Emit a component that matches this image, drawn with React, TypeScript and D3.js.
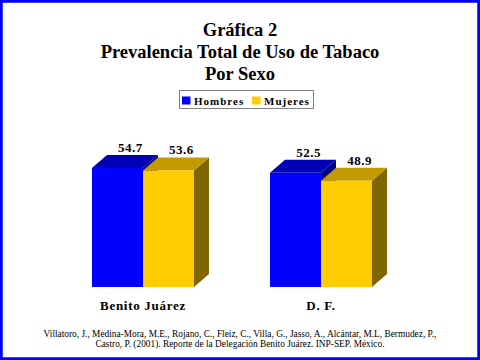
import React from "react";
import * as d3 from "d3";

const categories = ["Benito Juárez", "D. F."];
const seriesNames = ["Hombres", "Mujeres"];
const hombres = [54.7, 52.5];
const mujeres = [53.6, 48.9];
const titleLines = ["Gráfica 2", "Prevalencia Total de Uso de Tabaco", "Por Sexo"];
const footLines = [
  "Villatoro, J., Medina-Mora, M.E., Rojano, C., Fleiz, C., Villa, G., Jasso, A., Alcántar, M.L, Bermudez, P.,",
  "Castro, P. (2001). Reporte de la Delegación Benito Juárez. INP-SEP. México.",
];

const W = 480;
const H = 360;
const colors = [
  { front: "#0000FF", top: "#0000B4", side: "#000080" },
  { front: "#FFCC00", top: "#C39A00", side: "#806600" },
];
const DX = 15;
const DY = 13;
const SERIF = "'Liberation Serif', 'Times New Roman', serif";

export default function App() {
  const x0 = d3.scaleBand<string>().domain(categories).range([92, 372]).paddingInner(0.427).paddingOuter(0);
  const x1 = d3.scaleBand<string>().domain(seriesNames).range([0, x0.bandwidth()]).padding(0);
  const y = d3.scaleLinear().domain([0, 60]).range([287, 156.5]);
  const data = [hombres, mujeres];

  return (
    <svg width={W} height={H} style={{ display: "block", position: "absolute", left: 0, top: 0 }}>
      <rect x={0} y={0} width={W} height={H} fill="#fff" />
      <rect x={1.25} y={1.25} width={W - 2.5} height={H - 2.5} fill="none" stroke="#0000FF" strokeWidth={3} />
      {titleLines.map((t, i) => (
        <text key={i} x={240} y={36 + i * 22} textAnchor="middle" fontFamily={SERIF} fontWeight="bold" fontSize={18.5} fill="#000">
          {t}
        </text>
      ))}
      {/* legend */}
      <rect x={179.5} y={90.5} width={134} height={18} fill="#fff" stroke="#808080" strokeWidth={1} />
      {seriesNames.map((s, i) => {
        const lx = i === 0 ? 182 : 252;
        return (
          <g key={s}>
            <rect x={lx} y={96.5} width={8.5} height={8} fill={colors[i].front} />
            <text x={lx + 12} y={104.5} fontFamily={SERIF} fontWeight="bold" fontSize={11} letterSpacing={1} fill="#000">
              {s}
            </text>
          </g>
        );
      })}
      {/* bars */}
      {categories.map((c, ci) => {
        const gx = x0(c)!;
        return (
          <g key={c}>
            {seriesNames.map((s, si) => {
              const v = data[si][ci];
              const xl = gx + x1(s)!;
              const xr = xl + x1.bandwidth();
              const yt = y(v);
              const yb = y(0);
              const col = colors[si];
              return (
                <g key={s}>
                  <polygon points={`${xr},${yt} ${xr + DX},${yt - DY} ${xr + DX},${yb - DY} ${xr},${yb}`} fill={col.side} />
                  <polygon points={`${xl},${yt} ${xl + DX},${yt - DY} ${xr + DX},${yt - DY} ${xr},${yt}`} fill={col.top} />
                  <rect x={xl} y={yt} width={xr - xl} height={yb - yt} fill={col.front} />
                </g>
              );
            })}
            {seriesNames.map((s, si) => {
              const v = data[si][ci];
              const xl = gx + x1(s)!;
              const cx = xl + x1.bandwidth() / 2 + 13;
              return (
                <text key={s} x={cx} y={y(v) - DY - 3} textAnchor="middle" fontFamily={SERIF} fontWeight="bold" fontSize={13} letterSpacing={0.5} fill="#000">
                  {v.toFixed(1)}
                </text>
              );
            })}
            <text x={gx + x0.bandwidth() / 2} y={310} textAnchor="middle" fontFamily={SERIF} fontWeight="bold" fontSize={13} letterSpacing={0.7} fill="#000">
              {c}
            </text>
          </g>
        );
      })}
      {footLines.map((t, i) => (
        <text key={i} x={240} y={337 + i * 9.5} textAnchor="middle" fontFamily={SERIF} fontSize={9.35} fill="#000">
          {t}
        </text>
      ))}
    </svg>
  );
}
